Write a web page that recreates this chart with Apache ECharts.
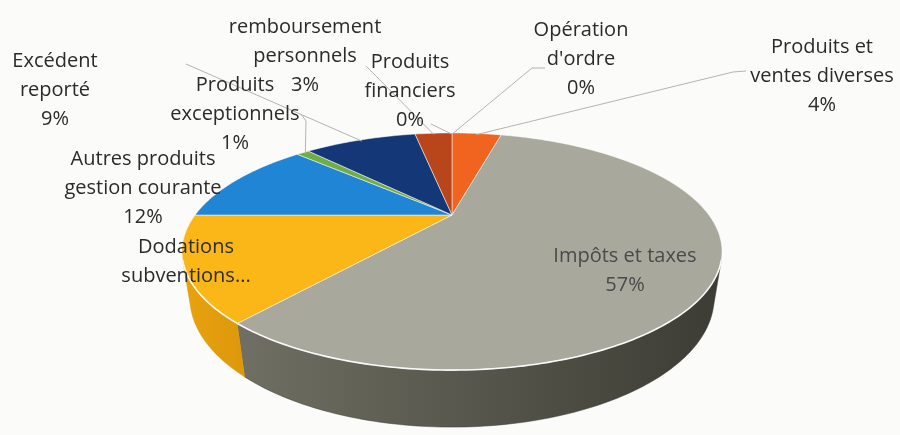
<!DOCTYPE html>
<html>
<head>
<meta charset="utf-8">
<script src="https://cdn.jsdelivr.net/npm/echarts@6/dist/echarts.min.js"></script>
<style>
  html, body { margin: 0; padding: 0; background: #fbfbfa; }
  #chart { width: 900px; height: 435px; }
</style>
</head>
<body>
<div id="chart"></div>
<script>
// slices, clockwise from 12 o'clock (same order as the excel sheet)
const categories = ["Opération d'ordre", 'Produits et ventes diverses', 'Impôts et taxes', 'Dodations subventions', 'Autres produits gestion courante', 'Produits exceptionnels', 'Excédent reporté', 'remboursement personnels', 'Produits financiers']
const labelNames = ["Opération\nd'ordre", 'Produits et\nventes diverses', 'Impôts et taxes', 'Dodations\nsubventions...', 'Autres produits\ngestion courante', 'Produits\nexceptionnels', 'Excédent\nreporté', 'remboursement\npersonnels', 'Produits\nfinanciers']
const values = [0, 4, 57, 14, 12, 1, 9, 3, 0]
const showPercent = [true, true, true, false, true, true, true, true, true]

// styles
const topColors = ['#5b9bd5', '#f0641f', '#a9a89d', '#fbb617', '#2185d5', '#70ad47', '#143877', '#b9461a', '#636363']
const sideColors = [
  ['#3f6f9c', '#2c4f70'],
  ['#b84a16', '#8a3710'],
  ['#706f63', '#3c3c34'],
  ['#e9a20f', '#dc980c'],
  ['#17609c', '#10456f'],
  ['#4f7c32', '#3a5c25'],
  ['#0d2754', '#091c3c'],
  ['#843111', '#5e230c'],
  ['#474747', '#333333']
]
const labelColors = ['#2b2b2b', '#2b2b2b', '#4a4a4a', '#2b2b2b', '#2b2b2b', '#2b2b2b', '#2b2b2b', '#2b2b2b', '#2b2b2b']
// label block centres (manually placed in the original)
const labelPos = [[581, 59], [822, 76], [625, 271], [186, 262], [143, 188], [235, 114], [55, 90], [305, 56], [410, 91]]
// where each leader line leaves its label (null = no line)
const leaderStart = [
  [[545, 68], [532, 68]],
  [[746, 71], [733, 72]],
  null,
  null,
  null,
  [[301, 114], [306, 121]],
  [[186, 64]],
  [[366, 66]],
  [[431, 124]]
]

const total = values.reduce((a, b) => a + b, 0)
const startShare = []
let acc = 0
values.forEach(v => {
  startShare.push(acc)
  acc += v
})

// perspective view of the disc
const view = { cx: 452, cy: 215, f: 757.8, dist: 2.95, tilt: 24.7, depth: 0.194 }
const sinT = Math.sin(view.tilt * Math.PI / 180)
const cosT = Math.cos(view.tilt * Math.PI / 180)
// the wall is only seen between these angles
const wallFrom = Math.acos(-1 / (view.dist * cosT)) * 180 / Math.PI
const wallTo = 360 - wallFrom

function project (deg, z, r) {
  const a = deg * Math.PI / 180
  const X = r * Math.sin(a)
  const Y = r * Math.cos(a)
  const v = Y * sinT + z * cosT
  const w = Y * cosT - z * sinT
  const k = view.f / (view.dist + w)
  return [view.cx + X * k, view.cy - v * k]
}

function arc (from, to, z) {
  const pts = []
  const steps = Math.max(2, Math.ceil(Math.abs(to - from)))
  for (let i = 0; i <= steps; i++) {
    pts.push(project(from + (to - from) * i / steps, z, 1))
  }
  return pts
}

function renderItem (params, api) {
  const i = params.dataIndex
  const a0 = startShare[i] / total * 360
  const a1 = a0 + api.value(1) / total * 360
  const children = []

  // outer wall
  const s0 = Math.max(a0, wallFrom)
  const s1 = Math.min(a1, wallTo)
  if (s1 > s0) {
    const top = arc(s0, s1, 0)
    const bottom = arc(s1, s0, -view.depth)
    children.push({
      type: 'polygon',
      shape: { points: top.concat(bottom) },
      style: {
        fill: new echarts.graphic.LinearGradient(0, 0, 1, 0, [
          { offset: 0, color: sideColors[i][0] },
          { offset: 1, color: sideColors[i][1] }
        ]),
        stroke: sideColors[i][1],
        lineWidth: 0.5
      }
    })
    children.push({
      type: 'polyline',
      shape: { points: top },
      style: { stroke: 'rgba(255,255,255,0.9)', lineWidth: 1.6, fill: null },
      z2: 5
    })
  }

  // top face
  if (a1 > a0) {
    children.push({
      type: 'polygon',
      shape: { points: [project(0, 0, 0)].concat(arc(a0, a1, 0)) },
      style: { fill: topColors[i], stroke: 'rgba(255,255,255,0.5)', lineWidth: 1 },
      z2: 2
    })
  }

  // leader line
  if (leaderStart[i]) {
    const mid = (a0 + a1) / 2
    children.push({
      type: 'polyline',
      shape: { points: leaderStart[i].concat([project(mid, 0, 0.98)]) },
      style: { stroke: '#b4b4b4', lineWidth: 1, fill: null },
      z2: 8
    })
  }

  // label
  const pct = Math.round(api.value(1) / total * 100)
  children.push({
    type: 'text',
    style: {
      text: labelNames[i] + (showPercent[i] ? '\n' + pct + '%' : ''),
      x: labelPos[i][0],
      y: labelPos[i][1],
      align: 'center',
      verticalAlign: 'middle',
      fontFamily: '"Open Sans", sans-serif',
      fontSize: 20,
      lineHeight: 29,
      fill: labelColors[i]
    },
    z2: 10
  })

  return { type: 'group', children }
}

const chart = echarts.init(document.getElementById('chart'))
chart.setOption({
  backgroundColor: '#fbfbfa',
  animation: false,
  series: [{
    type: 'custom',
    coordinateSystem: 'none',
    silent: true,
    renderItem: renderItem,
    data: values.map((v, i) => ({ name: categories[i], value: [i, v] }))
  }]
})
</script>
</body>
</html>
